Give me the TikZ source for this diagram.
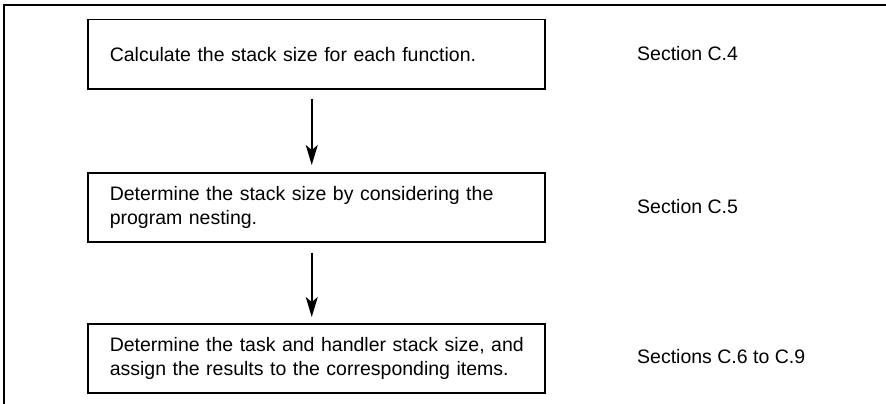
\documentclass[tikz,border=0pt]{standalone}
\usepackage{fontspec}
\setmainfont{Liberation Sans}
\usetikzlibrary{arrows.meta}
\begin{document}
\begin{tikzpicture}[x=1pt,y=-1pt,
  every node/.style={font=\fontsize{19.5}{24}\selectfont},
  stepbox/.style={draw,line width=1.5pt,minimum width=457pt,minimum height=69pt,
    text width=413pt,inner xsep=22pt,align=left,anchor=north west},
  lbl/.style={anchor=west,inner sep=0pt},
  arr/.style={line width=1.6pt,-{Stealth[length=20pt,width=12pt,inset=5pt]}}]
\useasboundingbox (0,0) rectangle (886,404);
\draw[line width=2.2pt] (4,405) -- (4,5) -- (887,5);
\node[stepbox] (b1) at (87,19) {\mbox{Calculate the stack size for each function.}};
\node[stepbox] (b2) at (87,172) {\mbox{Determine the stack size by considering the}\\\mbox{program nesting.}};
\node[stepbox] (b3) at (87,323) {\mbox{Determine the task and handler stack size, and}\\\mbox{assign the results to the corresponding items.}};
\node[lbl] (s1) at (637,54) {Section C.4};
\node[lbl] (s2) at (637,207) {Section C.5};
\node[lbl] (s3) at (637,357) {Sections C.6 to C.9};
\draw[arr] ([xshift=-4.5pt,yshift=-9pt]b1.south) -- ([xshift=-4.5pt,yshift=7pt]b2.north);
\draw[arr] ([xshift=-4.5pt,yshift=-10pt]b2.south) -- ([xshift=-4.5pt,yshift=6pt]b3.north);
\end{tikzpicture}
\end{document}
